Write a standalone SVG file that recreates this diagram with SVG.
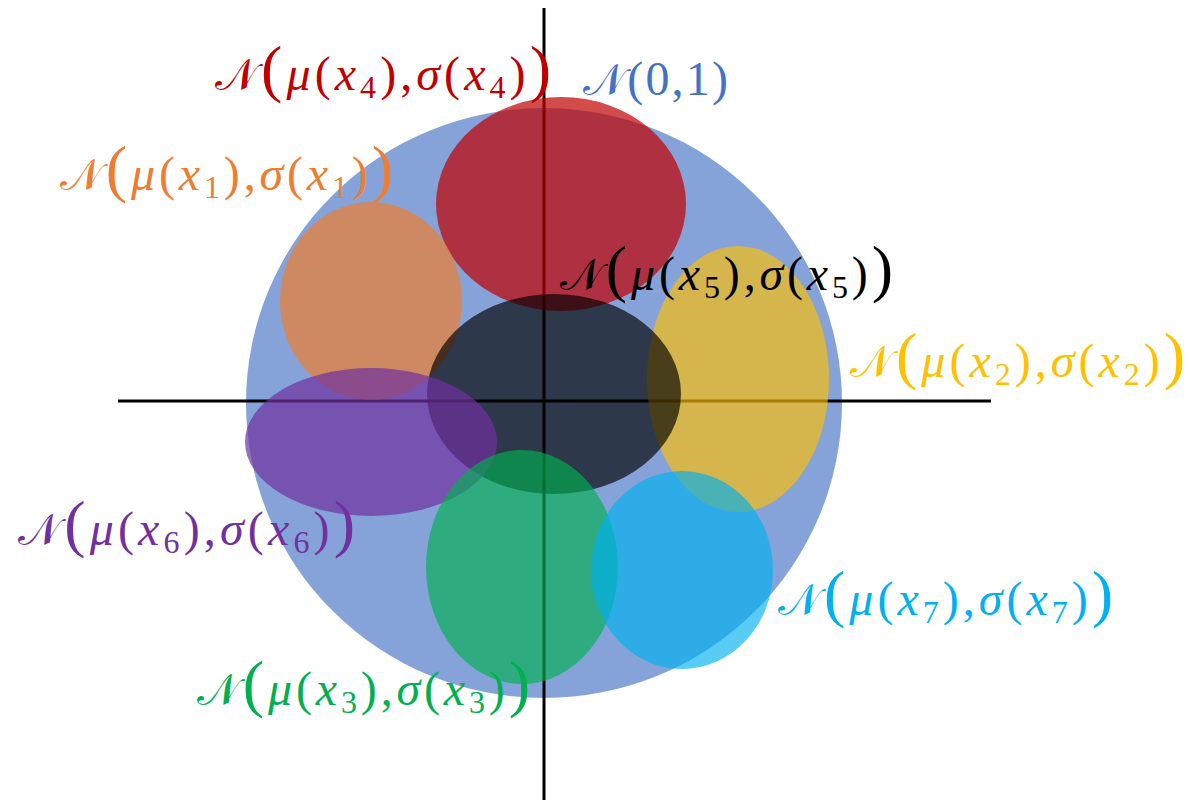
<svg xmlns="http://www.w3.org/2000/svg" width="1190" height="800" viewBox="0 0 1190 800">
<style>
.lbl{font-family:"Liberation Serif","DejaVu Serif",serif;font-size:48px}
.cal{font-family:"DejaVu Serif","DejaVu Sans","Liberation Serif",serif;font-style:normal;font-size:44px}
.it{font-style:italic}
.bp{font-size:64px}
.sub{font-size:32px}
.ax{stroke:#000;stroke-width:3;fill:none}
</style>
<rect width="1190" height="800" fill="#fff"/>
<g id="prior">
<ellipse cx="544" cy="403" rx="298" ry="295" fill="#4472C4" fill-opacity="0.65"/>
</g>
<g id="axes">
<line class="ax" x1="544" y1="8" x2="544" y2="800"/>
<line class="ax" x1="118" y1="401" x2="991" y2="401"/>
</g>
<g id="n4"><ellipse cx="561" cy="204" rx="125" ry="107" fill="#C00000" fill-opacity="0.7"/></g>
<g id="n1"><ellipse cx="371" cy="301" rx="91" ry="99" fill="#ED7D31" fill-opacity="0.7"/></g>
<g id="n2"><ellipse cx="738" cy="379" rx="91" ry="133" fill="#FFC000" fill-opacity="0.65"/></g>
<g id="n5"><ellipse cx="554" cy="394" rx="127" ry="100" fill="#000" fill-opacity="0.66"/></g>
<g id="n6"><ellipse cx="371" cy="442" rx="126" ry="74" fill="#7030A0" fill-opacity="0.7"/></g>
<g id="n3"><ellipse cx="522" cy="567" rx="96" ry="117" fill="#00B050" fill-opacity="0.65"/></g>
<g id="n7"><ellipse cx="682" cy="570" rx="91" ry="99" fill="#00B0F0" fill-opacity="0.65"/></g>
<g id="labels">
<text class="lbl" x="583" y="95" fill="#4472C4" textLength="145" lengthAdjust="spacing"><tspan class="cal">𝒩</tspan>(0,1)</text>
<text class="lbl" x="215" y="90" fill="#C00000" textLength="336" lengthAdjust="spacing"><tspan class="cal">𝒩</tspan><tspan class="bp">(</tspan><tspan class="it">μ</tspan>(<tspan class="it">x</tspan><tspan class="sub" dy="8">4</tspan><tspan dy="-8">),</tspan><tspan class="it">σ</tspan>(<tspan class="it">x</tspan><tspan class="sub" dy="8">4</tspan><tspan dy="-8">)</tspan><tspan class="bp">)</tspan></text>
<text class="lbl" x="60" y="190" fill="#ED7D31" textLength="333" lengthAdjust="spacing"><tspan class="cal">𝒩</tspan><tspan class="bp">(</tspan><tspan class="it">μ</tspan>(<tspan class="it">x</tspan><tspan class="sub" dy="8">1</tspan><tspan dy="-8">),</tspan><tspan class="it">σ</tspan>(<tspan class="it">x</tspan><tspan class="sub" dy="8">1</tspan><tspan dy="-8">)</tspan><tspan class="bp">)</tspan></text>
<text class="lbl" x="560" y="290" fill="#000" textLength="333" lengthAdjust="spacing"><tspan class="cal">𝒩</tspan><tspan class="bp">(</tspan><tspan class="it">μ</tspan>(<tspan class="it">x</tspan><tspan class="sub" dy="8">5</tspan><tspan dy="-8">),</tspan><tspan class="it">σ</tspan>(<tspan class="it">x</tspan><tspan class="sub" dy="8">5</tspan><tspan dy="-8">)</tspan><tspan class="bp">)</tspan></text>
<text class="lbl" x="850" y="377" fill="#FFC000" textLength="335" lengthAdjust="spacing"><tspan class="cal">𝒩</tspan><tspan class="bp">(</tspan><tspan class="it">μ</tspan>(<tspan class="it">x</tspan><tspan class="sub" dy="8">2</tspan><tspan dy="-8">),</tspan><tspan class="it">σ</tspan>(<tspan class="it">x</tspan><tspan class="sub" dy="8">2</tspan><tspan dy="-8">)</tspan><tspan class="bp">)</tspan></text>
<text class="lbl" x="18" y="545" fill="#7030A0" textLength="337" lengthAdjust="spacing"><tspan class="cal">𝒩</tspan><tspan class="bp">(</tspan><tspan class="it">μ</tspan>(<tspan class="it">x</tspan><tspan class="sub" dy="8">6</tspan><tspan dy="-8">),</tspan><tspan class="it">σ</tspan>(<tspan class="it">x</tspan><tspan class="sub" dy="8">6</tspan><tspan dy="-8">)</tspan><tspan class="bp">)</tspan></text>
<text class="lbl" x="778" y="615" fill="#00B0F0" textLength="335" lengthAdjust="spacing"><tspan class="cal">𝒩</tspan><tspan class="bp">(</tspan><tspan class="it">μ</tspan>(<tspan class="it">x</tspan><tspan class="sub" dy="8">7</tspan><tspan dy="-8">),</tspan><tspan class="it">σ</tspan>(<tspan class="it">x</tspan><tspan class="sub" dy="8">7</tspan><tspan dy="-8">)</tspan><tspan class="bp">)</tspan></text>
<text class="lbl" x="197" y="705" fill="#00B050" textLength="333" lengthAdjust="spacing"><tspan class="cal">𝒩</tspan><tspan class="bp">(</tspan><tspan class="it">μ</tspan>(<tspan class="it">x</tspan><tspan class="sub" dy="8">3</tspan><tspan dy="-8">),</tspan><tspan class="it">σ</tspan>(<tspan class="it">x</tspan><tspan class="sub" dy="8">3</tspan><tspan dy="-8">)</tspan><tspan class="bp">)</tspan></text>
</g>
</svg>
